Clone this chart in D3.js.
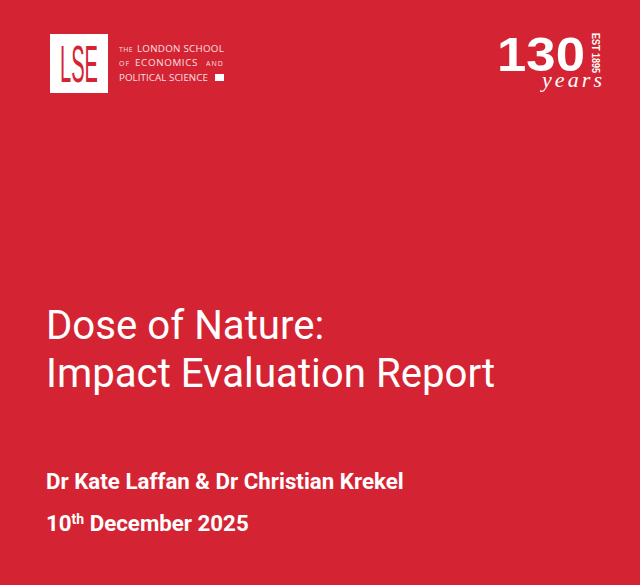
<!DOCTYPE html>
<html>
<head>
<meta charset="utf-8">
<script src="https://cdnjs.cloudflare.com/ajax/libs/d3/7.8.5/d3.min.js"></script>
<style>
html, body { margin: 0; padding: 0; background: #d42433; }
svg { display: block; }
text { font-family: Roboto, sans-serif; fill: #fff; }
</style>
</head>
<body>
<div id="cover"></div>
<script>
var titleLines = ['Dose of Nature:', 'Impact Evaluation Report'];
var authors = 'Dr Kate Laffan & Dr Christian Krekel';
var dateParts = ['10', 'th', ' December 2025'];
// crest words: word, line, left edge, width, small caps or not
var crestWords = ['THE', 'LONDON SCHOOL', 'OF', 'ECONOMICS', 'AND', 'POLITICAL SCIENCE'];
var crestLine = [0, 0, 1, 1, 1, 2];
var crestLeft = [119, 137, 119, 135, 206, 119];
var crestWidth = [14, 87, 11, 63, 18, 89];
var crestSmall = [true, false, true, false, true, false];

var svg = d3.select('#cover').append('svg')
  .attr('width', 640)
  .attr('height', 585);

svg.append('rect')
  .attr('width', 640)
  .attr('height', 585)
  .attr('fill', '#d42433');

// squeeze a text to a given width, keeps its box honest unlike textLength
function fitWidth(sel, x, y, width) {
  var k = width / sel.node().getComputedTextLength();
  sel.attr('transform', 'translate(' + x + ',' + y + ') scale(' + k + ',1)');
}

// LSE logo
svg.append('rect')
  .attr('x', 50).attr('y', 34)
  .attr('width', 58).attr('height', 59)
  .attr('fill', '#fff');

svg.append('text')
  .style('font-family', 'Liberation Sans Narrow, Liberation Sans, sans-serif')
  .style('font-size', '51px')
  .style('fill', '#d42433')
  .text('LSE')
  .call(fitWidth, 60, 82, 38);

// crest text, spaced out to the measured width of each word
svg.append('g').selectAll('text')
  .data(crestWords)
  .enter().append('text')
  .attr('x', function (d, i) { return crestLeft[i]; })
  .attr('y', function (d, i) { return 52 + crestLine[i] * 14.3; })
  .style('font-family', 'Open Sans, sans-serif')
  .style('font-size', function (d, i) { return crestSmall[i] ? '7px' : '9.8px'; })
  .style('font-weight', 500)
  .style('opacity', 0.85)
  .text(function (d) { return d; })
  .each(function (d, i) {
    var extra = (crestWidth[i] - this.getComputedTextLength()) / d.length;
    d3.select(this).style('letter-spacing', extra + 'px');
  });

svg.append('rect')
  .attr('x', 215).attr('y', 74)
  .attr('width', 9).attr('height', 7)
  .attr('fill', '#fff');

// 130 years
svg.append('text')
  .style('font-family', 'Liberation Sans, sans-serif')
  .style('font-weight', 700)
  .style('font-size', '49px')
  .text('130')
  .call(fitWidth, 497, 71, 88);

svg.append('text')
  .attr('transform', 'translate(592,33) rotate(90)')
  .attr('textLength', 40)
  .attr('lengthAdjust', 'spacingAndGlyphs')
  .style('font-family', 'Liberation Sans Narrow, Liberation Sans, sans-serif')
  .style('font-weight', 700)
  .style('font-size', '11px')
  .text('EST 1895');

svg.append('text')
  .attr('x', 542).attr('y', 87)
  .attr('textLength', 60)
  .style('font-family', 'Liberation Serif, serif')
  .style('font-style', 'italic')
  .style('font-size', '22px')
  .text('years');

// title
svg.selectAll('text.title')
  .data(titleLines)
  .enter().append('text')
  .attr('class', 'title')
  .attr('x', 46)
  .attr('y', function (d, i) { return 339 + i * 48; })
  .style('font-size', '40.2px')
  .text(function (d) { return d; });

svg.append('text')
  .attr('x', 46).attr('y', 489)
  .style('font-size', '22.3px')
  .style('font-weight', 700)
  .text(authors);

var dateText = svg.append('text')
  .attr('x', 46).attr('y', 531)
  .style('font-size', '22.3px')
  .style('font-weight', 700);
dateText.append('tspan').text(dateParts[0]);
dateText.append('tspan').attr('dy', -7).style('font-size', '14px').text(dateParts[1]);
dateText.append('tspan').attr('dy', 7).text(dateParts[2]);
</script>
</body>
</html>
